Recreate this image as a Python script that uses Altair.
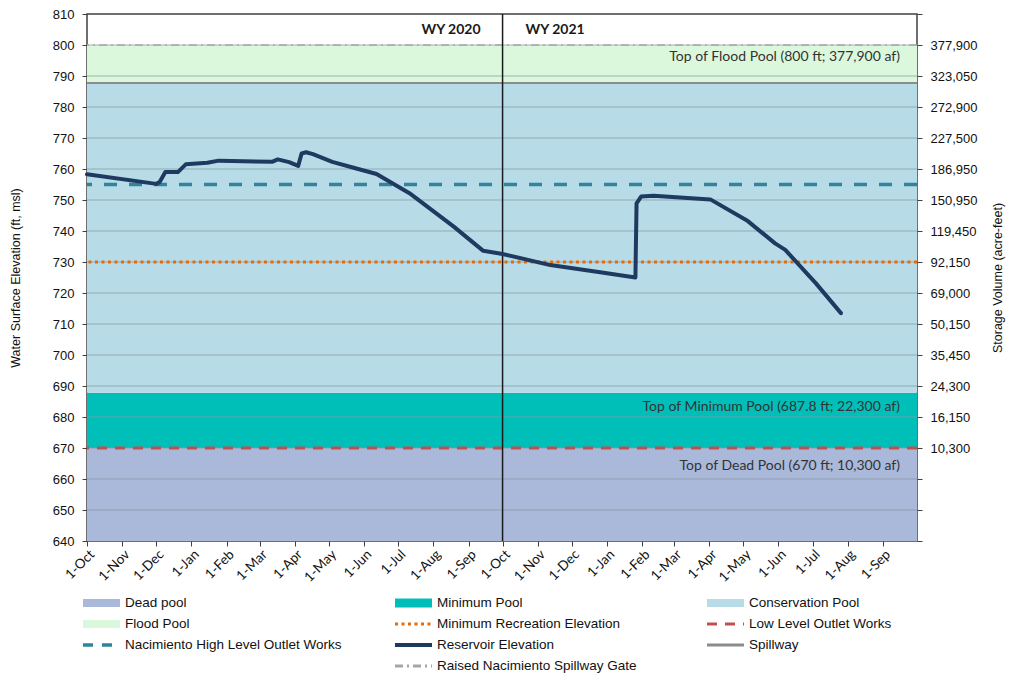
import altair as alt
import pandas as pd

TITLE = "Nacimiento Reservoir"
X_START = "2019-10-01T00:00:00"
X_END = "2021-10-01T00:00:00"
WY_SPLIT = "2020-10-01T00:00:00"

# Reservoir elevation (ft, msl)
res_dates = ["2019-10-01", "2019-12-01", "2019-12-04", "2019-12-09", "2019-12-20", "2019-12-27",
             "2020-01-15", "2020-01-25", "2020-03-12", "2020-03-17", "2020-03-27", "2020-04-04",
             "2020-04-07", "2020-04-11", "2020-04-17", "2020-05-04", "2020-05-22", "2020-06-12",
             "2020-07-11", "2020-08-19", "2020-09-14", "2020-10-01", "2020-11-12", "2020-12-26",
             "2021-01-26", "2021-01-27", "2021-01-31", "2021-02-11", "2021-04-02", "2021-05-05",
             "2021-05-29", "2021-06-07", "2021-07-04", "2021-07-26"]
res_elev = [758.3, 755.2, 755.8, 759.0, 759.0, 761.5,
            762.0, 762.7, 762.3, 763.1, 762.2, 761.0,
            765.0, 765.4, 764.8, 762.3, 760.5, 758.4,
            752.2, 741.4, 733.6, 732.6, 729.0, 726.7,
            725.0, 748.9, 751.1, 751.4, 750.2, 743.2,
            736.0, 733.9, 723.1, 713.5]

# Pool bands
band_names = ["Dead pool", "Minimum Pool", "Conservation Pool", "Flood Pool"]
band_lo = [640, 670, 687.8, 787.75]
band_hi = [670, 687.8, 787.75, 800]

# Reference lines
ref_names = ["Spillway", "Raised Nacimiento Spillway Gate", "Nacimiento High Level Outlet Works",
             "Minimum Recreation Elevation", "Low Level Outlet Works"]
ref_elev = [787.75, 800, 755, 730, 670]

# Annotations
ann_text = ["Top of Flood Pool (800 ft; 377,900 af)",
            "Top of Minimum Pool (687.8 ft; 22,300 af)",
            "Top of Dead Pool (670 ft; 10,300 af)"]
ann_level = [800, 687.8, 670]
wy_labels = ["WY 2020", "WY 2021"]

# Axes
elev_ticks = list(range(640, 811, 10))
storage_elev = [800, 790, 780, 770, 760, 750, 740, 730, 720, 710, 700, 690, 680, 670]
storage_af = ["377,900", "323,050", "272,900", "227,500", "186,950", "150,950", "119,450",
              "92,150", "69,000", "50,150", "35,450", "24,300", "16,150", "10,300"]
month_ticks = pd.date_range("2019-10-01", "2021-09-01", freq="MS")

legend_labels = ["Dead pool", "Minimum Pool", "Conservation Pool",
                 "Flood Pool", "Minimum Recreation Elevation", "Low Level Outlet Works",
                 "Nacimiento High Level Outlet Works", "Reservoir Elevation", "Spillway",
                 "", "Raised Nacimiento Spillway Gate"]

# ---------------- styles (not data) ----------------
STYLE = {
    "Dead pool": dict(color="#aab8da", width=8, dash=None),
    "Minimum Pool": dict(color="#00bfb9", width=9, dash=None),
    "Conservation Pool": dict(color="#b8dce7", width=8, dash=None),
    "Flood Pool": dict(color="#dcf8dc", width=8, dash=None),
    "Minimum Recreation Elevation": dict(color="#e46c0a", width=3, dash=[3, 3.5]),
    "Low Level Outlet Works": dict(color="#c0504d", width=3, dash=[10, 8]),
    "Nacimiento High Level Outlet Works": dict(color="#31849b", width=3.5, dash=[13, 12]),
    "Reservoir Elevation": dict(color="#1f3a60", width=4, dash=None),
    "Spillway": dict(color="#8c8c8c", width=2, dash=None),
    "Raised Nacimiento Spillway Gate": dict(color="#a6a6a6", width=1.6, dash=[8, 4, 2, 4]),
}
FONT = "Liberation Sans"
NOTE_FONT = "Lato"
W, H = 830, 527

xscale = alt.Scale(domain=[alt.DateTime(year=2019, month=10, date=1),
                           alt.DateTime(year=2021, month=10, date=1)])
yscale = alt.Scale(domain=[640, 810], nice=False, zero=False)

xaxis = alt.Axis(values=[alt.DateTime(year=d.year, month=d.month, date=1) for d in month_ticks],
                 format="%-d-%b", labelAngle=315, labelFont=NOTE_FONT, labelFontSize=13.5,
                 tickSize=5, labelPadding=1, title=None, grid=False, domain=False,
                 labelOverlap=False, labelBound=False, labelFlush=False)
yaxis_left = alt.Axis(values=elev_ticks, title="Water Surface Elevation (ft, msl)",
                      tickSize=5, labelPadding=8, titlePadding=30, grid=False, domain=False)
storage_expr = " : ".join(f"datum.value == {e} ? '{s}'" for e, s in zip(storage_elev, storage_af)) + " : ''"
yaxis_right = alt.Axis(values=elev_ticks, orient="right", labelExpr=storage_expr,
                       title="Storage Volume (acre-feet)", titleAngle=270, tickSize=5,
                       labelPadding=8, titlePadding=28, grid=False, domain=False)

X = lambda f, ax=None: alt.X(f, type="temporal", scale=xscale, axis=ax)
Y = lambda f, ax=None: alt.Y(f, type="quantitative", scale=yscale, axis=ax)

bands_df = pd.DataFrame({"series": band_names, "lo": band_lo, "hi": band_hi,
                         "x0": pd.to_datetime(X_START), "x1": pd.to_datetime(X_END)})
bands = alt.Chart(bands_df).mark_rect().encode(
    x=X("x0:T", xaxis), x2="x1:T",
    y=Y("lo:Q", yaxis_left), y2="hi:Q",
    color=alt.Color("series:N", scale=alt.Scale(domain=band_names,
                                                range=[STYLE[b]["color"] for b in band_names]),
                    legend=None),
)

grid = alt.Chart(pd.DataFrame({"elev": elev_ticks[1:-1]})).mark_rule(
    color="#8a9aa2", strokeWidth=1, opacity=0.75).encode(y=Y("elev:Q", yaxis_right))

ref_df = pd.DataFrame({"series": ref_names, "elev": ref_elev})
ref_layers = []
for name in ref_names:
    st = STYLE[name]
    kw = dict(color=st["color"], strokeWidth=st["width"])
    if st["dash"]:
        kw["strokeDash"] = st["dash"]
    ref_layers.append(alt.Chart(ref_df).transform_filter(alt.datum.series == name)
                      .mark_rule(**kw).encode(y=Y("elev:Q")))

divider = alt.Chart(pd.DataFrame({"d": [pd.to_datetime(WY_SPLIT)]})).mark_rule(
    color="#1a1a1a", strokeWidth=1.5).encode(x=X("d:T", xaxis))

res_df = pd.DataFrame({"date": pd.to_datetime(res_dates), "elev": res_elev})
st = STYLE["Reservoir Elevation"]
reservoir = alt.Chart(res_df).mark_line(color=st["color"], strokeWidth=st["width"],
                                        strokeJoin="round", strokeCap="round").encode(
    x=X("date:T", xaxis), y=Y("elev:Q"))

wy_df = pd.DataFrame({"t": wy_labels, "d": pd.to_datetime(WY_SPLIT)})
wy_common = dict(font=NOTE_FONT, fontSize=14, fontWeight="bold", color="#1a1a1a", baseline="middle")
wy_left = alt.Chart(wy_df).transform_filter(alt.datum.t == wy_labels[0]).mark_text(
    align="right", dx=-22, **wy_common).encode(x=X("d:T", xaxis), y=alt.value(16), text="t:N")
wy_right = alt.Chart(wy_df).transform_filter(alt.datum.t == wy_labels[1]).mark_text(
    align="left", dx=23, **wy_common).encode(x=X("d:T", xaxis), y=alt.value(16), text="t:N")

ann_df = pd.DataFrame({"t": ann_text, "lvl": ann_level, "d": pd.to_datetime(X_END)})
ann_dy = [12, 14, 18]
ann_layers = []
for txt, dy in zip(ann_text, ann_dy):
    ann_layers.append(alt.Chart(ann_df).transform_filter(alt.datum.t == txt).mark_text(
        align="right", baseline="middle", dx=-17, dy=dy, font=NOTE_FONT, fontSize=14,
        color="#333333").encode(x=X("d:T", xaxis), y=Y("lvl:Q"), text="t:N"))

main = alt.layer(bands, grid, *ref_layers, divider, reservoir, wy_left, wy_right,
                 *ann_layers).resolve_axis(y="independent")

# ---------------- legend (own scales) ----------------
leg_items = [(lab, i % 3, i // 3) for i, lab in enumerate(legend_labels) if lab]
leg_df = pd.DataFrame({"series": [a for a, _, _ in leg_items],
                       "col": [c for _, c, _ in leg_items],
                       "row": [r for _, _, r in leg_items]})
lx = alt.Scale(domain=[0, 2], range=[-4, 620], zero=False, nice=False)
ly = alt.Scale(domain=[0, 3], range=[589, 652], zero=False, nice=False)
SYM_W = 37 / 312.0

leg_layers = []
for lab, c, r in leg_items:
    st = STYLE[lab]
    kw = dict(color=st["color"], strokeWidth=st["width"] if st["width"] >= 8 else max(st["width"], 3))
    if st["dash"]:
        kw["strokeDash"] = st["dash"] if lab != "Nacimiento High Level Outlet Works" else [10, 9]
    leg_layers.append(alt.Chart(leg_df).transform_filter(alt.datum.series == lab)
                      .transform_calculate(xe=f"datum.col + {SYM_W}")
                      .mark_rule(**kw).encode(
                          x=alt.X("col:Q", scale=lx, axis=None), x2="xe:Q",
                          y=alt.Y("row:Q", scale=ly, axis=None)))
leg_text = alt.Chart(leg_df).mark_text(align="left", baseline="middle", dx=42, font=FONT,
                                       fontSize=13.5, color="#111111").encode(
    x=alt.X("col:Q", scale=lx, axis=None), y=alt.Y("row:Q", scale=ly, axis=None), text="series:N")
legend = alt.layer(*leg_layers, leg_text)

chart = alt.layer(main, legend).resolve_scale(x="independent", y="independent").properties(
    width=W, height=H,
    autosize=alt.AutoSizeParams(type="none"),
    padding={"left": 79, "top": 6, "right": 93, "bottom": 134},
    title=alt.Title(TITLE, fontSize=50, font=FONT, fontWeight="bold", color="#2e3192",
                    anchor="middle", offset=1, baseline="alphabetic", dx=14),
).configure_view(stroke="#404040", strokeWidth=1.5).configure_axis(
    labelFont=FONT, labelFontSize=13, labelColor="#111111", titleFont=FONT, titleFontSize=12.5,
    titleFontWeight="normal", titleColor="#111111", tickColor="#404040")

chart.save("out.html", embed_options={"renderer": "svg", "actions": False})
